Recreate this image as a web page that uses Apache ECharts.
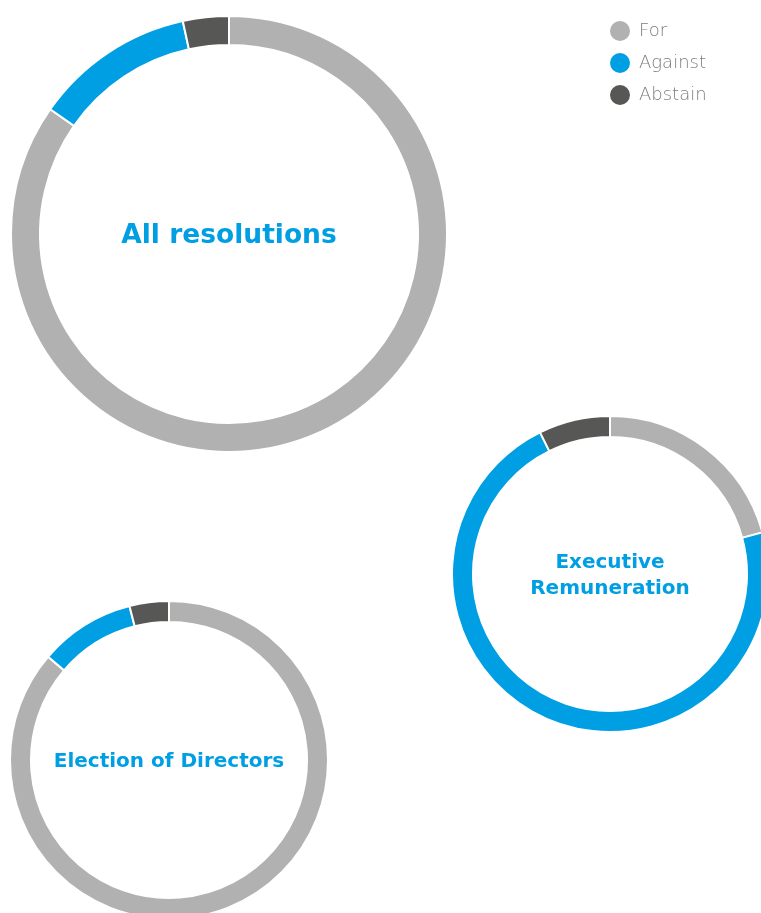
<!DOCTYPE html>
<html>
<head>
<meta charset="utf-8">
<script src="https://cdn.jsdelivr.net/npm/echarts@6/dist/echarts.min.js"></script>
<style>
  html, body { margin: 0; padding: 0; background: #fff; }
  #main { width: 761px; height: 913px; }
</style>
</head>
<body>
<div id="main"></div>
<script>
// vote shares (%), clockwise from 12 o'clock
var categories = ['For', 'Against', 'Abstain'];
var allResolutions = [84.7, 11.9, 3.4];
var execRemuneration = [20.75, 71.95, 7.3];
var electionDirectors = [86.25, 9.75, 4.0];

var colors = ['#b1b1b1', '#009fe3', '#575756'];

function toData(values) {
  return categories.map(function(name, i) {
    return { name: name, value: values[i] };
  });
}

function ring(name, values, center, radius) {
  return {
    type: 'pie',
    name: name,
    center: center,
    radius: radius,
    startAngle: 90,
    clockwise: true,
    silent: true,
    label: { show: false },
    labelLine: { show: false },
    itemStyle: { borderColor: '#fff', borderWidth: 2 },
    data: toData(values)
  };
}

function heading(text, x, y, size) {
  return {
    type: 'text',
    x: x,
    y: y,
    silent: true,
    style: {
      text: text,
      fill: '#009fe3',
      font: 'bold ' + size + 'px "DejaVu Sans"',
      lineHeight: size + 6,
      align: 'center',
      verticalAlign: 'middle'
    }
  };
}

var chart = echarts.init(document.getElementById('main'), null, { renderer: 'canvas' });

chart.setOption({
  animation: false,
  color: colors,
  graphic: [
    heading('All resolutions', 229, 236, 26.5),
    heading('Executive\nRemuneration', 610, 576, 20),
    heading('Election of Directors', 169, 762, 20)
  ],
  legend: {
    data: categories,
    orient: 'vertical',
    left: 608,
    top: 19,
    padding: 0,
    icon: 'circle',
    itemWidth: 22,
    itemHeight: 22,
    itemGap: 8,
    textStyle: {
      color: '#7c7c7c',
      fontFamily: 'DejaVu Sans',
      fontWeight: 200,
      fontSize: 18,
      lineHeight: 20,
      padding: [0, 0, 0, 3]
    }
  },
  series: [
    ring('All resolutions', allResolutions, [229, 234], [189, 218]),
    ring('Executive Remuneration', execRemuneration, [610, 574], [137, 158]),
    ring('Election of Directors', electionDirectors, [169, 760], [138, 159])
  ]
});
</script>
</body>
</html>
